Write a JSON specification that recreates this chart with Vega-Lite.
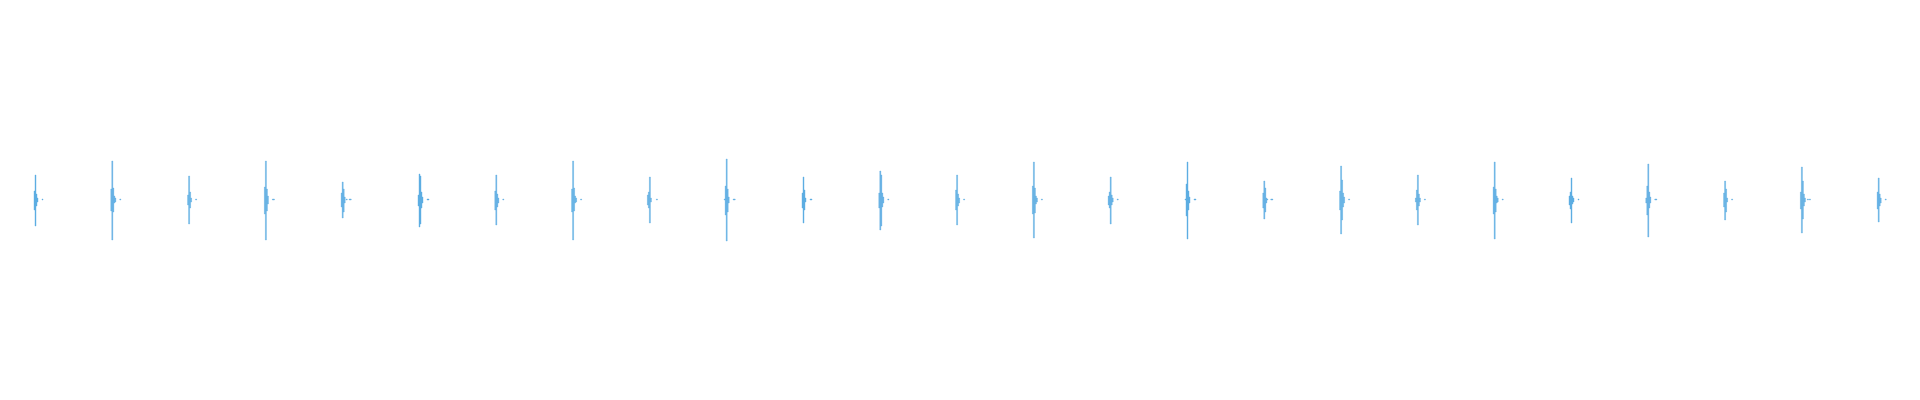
{
  "$schema": "https://vega.github.io/schema/vega-lite/v6.json",
  "width": 1920,
  "height": 400,
  "autosize": {"type": "fit", "contains": "padding"},
  "padding": 0,
  "background": "white",
  "config": {"view": {"stroke": null}},
  "data": {"values": [
    {"g":1,"c":-1,"hi":9,"lo":-10},{"g":1,"c":0,"hi":25,"lo":-26},{"g":1,"c":1,"hi":6,"lo":-6},{"g":1,"c":2,"hi":2,"lo":-2},{"g":1,"c":7,"hi":1,"lo":0},
    {"g":2,"c":-1,"hi":11,"lo":-11},{"g":2,"c":0,"hi":39,"lo":-40},{"g":2,"c":1,"hi":12,"lo":-12},{"g":2,"c":2,"hi":4,"lo":-3},{"g":2,"c":3,"hi":2,"lo":-2},{"g":2,"c":8,"hi":1,"lo":0},
    {"g":3,"c":-1,"hi":5,"lo":-5},{"g":3,"c":0,"hi":24,"lo":-24},{"g":3,"c":1,"hi":8,"lo":-8},{"g":3,"c":2,"hi":2,"lo":-2},{"g":3,"c":7,"hi":1,"lo":0},
    {"g":4,"c":-1,"hi":13,"lo":-14},{"g":4,"c":0,"hi":39,"lo":-40},{"g":4,"c":1,"hi":11,"lo":-11},{"g":4,"c":2,"hi":4,"lo":-4},{"g":4,"c":7,"hi":1,"lo":0},{"g":4,"c":8,"hi":1,"lo":0},
    {"g":5,"c":-1,"hi":7,"lo":-7},{"g":5,"c":0,"hi":18,"lo":-18},{"g":5,"c":1,"hi":11,"lo":-12},{"g":5,"c":2,"hi":3,"lo":-3},{"g":5,"c":4,"hi":1,"lo":0},{"g":5,"c":7,"hi":1,"lo":0},{"g":5,"c":8,"hi":1,"lo":0},
    {"g":6,"c":-1,"hi":5,"lo":-6},{"g":6,"c":0,"hi":26,"lo":-27},{"g":6,"c":1,"hi":24,"lo":-24},{"g":6,"c":2,"hi":8,"lo":-8},{"g":6,"c":3,"hi":3,"lo":-3},{"g":6,"c":8,"hi":1,"lo":0},{"g":6,"c":9,"hi":1,"lo":0},
    {"g":7,"c":-1,"hi":9,"lo":-10},{"g":7,"c":0,"hi":25,"lo":-25},{"g":7,"c":1,"hi":6,"lo":-7},{"g":7,"c":2,"hi":2,"lo":-3},{"g":7,"c":7,"hi":1,"lo":0},
    {"g":8,"c":-1,"hi":11,"lo":-12},{"g":8,"c":0,"hi":39,"lo":-40},{"g":8,"c":1,"hi":12,"lo":-11},{"g":8,"c":2,"hi":4,"lo":-3},{"g":8,"c":3,"hi":2,"lo":-2},{"g":8,"c":8,"hi":1,"lo":0},
    {"g":9,"c":-2,"hi":5,"lo":-5},{"g":9,"c":-1,"hi":8,"lo":-8},{"g":9,"c":0,"hi":23,"lo":-23},{"g":9,"c":1,"hi":2,"lo":-2},{"g":9,"c":7,"hi":1,"lo":0},
    {"g":10,"c":-2,"hi":1,"lo":0},{"g":10,"c":-1,"hi":14,"lo":-15},{"g":10,"c":0,"hi":41,"lo":-41},{"g":10,"c":1,"hi":11,"lo":-12},{"g":10,"c":2,"hi":3,"lo":-3},{"g":10,"c":7,"hi":1,"lo":0},{"g":10,"c":8,"hi":1,"lo":0},
    {"g":11,"c":-1,"hi":7,"lo":-8},{"g":11,"c":0,"hi":23,"lo":-23},{"g":11,"c":1,"hi":10,"lo":-10},{"g":11,"c":2,"hi":2,"lo":-2},{"g":11,"c":7,"hi":1,"lo":0},{"g":11,"c":8,"hi":1,"lo":0},
    {"g":12,"c":-1,"hi":7,"lo":-8},{"g":12,"c":0,"hi":29,"lo":-30},{"g":12,"c":1,"hi":25,"lo":-26},{"g":12,"c":2,"hi":7,"lo":-7},{"g":12,"c":3,"hi":3,"lo":-3},{"g":12,"c":8,"hi":1,"lo":0},
    {"g":13,"c":-1,"hi":10,"lo":-10},{"g":13,"c":0,"hi":25,"lo":-25},{"g":13,"c":1,"hi":6,"lo":-6},{"g":13,"c":2,"hi":2,"lo":-3},{"g":13,"c":7,"hi":1,"lo":0},
    {"g":14,"c":-1,"hi":14,"lo":-14},{"g":14,"c":0,"hi":38,"lo":-38},{"g":14,"c":1,"hi":12,"lo":-13},{"g":14,"c":2,"hi":4,"lo":-4},{"g":14,"c":3,"hi":2,"lo":-2},{"g":14,"c":8,"hi":1,"lo":0},
    {"g":15,"c":-2,"hi":4,"lo":-5},{"g":15,"c":-1,"hi":8,"lo":-8},{"g":15,"c":0,"hi":23,"lo":-24},{"g":15,"c":1,"hi":5,"lo":-5},{"g":15,"c":2,"hi":2,"lo":-2},{"g":15,"c":7,"hi":1,"lo":0},
    {"g":16,"c":-2,"hi":1,"lo":0},{"g":16,"c":-1,"hi":16,"lo":-16},{"g":16,"c":0,"hi":38,"lo":-39},{"g":16,"c":1,"hi":9,"lo":-10},{"g":16,"c":2,"hi":3,"lo":-3},{"g":16,"c":7,"hi":1,"lo":0},{"g":16,"c":8,"hi":1,"lo":0},
    {"g":17,"c":-1,"hi":7,"lo":-8},{"g":17,"c":0,"hi":19,"lo":-19},{"g":17,"c":1,"hi":12,"lo":-12},{"g":17,"c":2,"hi":2,"lo":-3},{"g":17,"c":3,"hi":1,"lo":0},{"g":17,"c":7,"hi":1,"lo":0},{"g":17,"c":8,"hi":1,"lo":0},
    {"g":18,"c":-1,"hi":9,"lo":-10},{"g":18,"c":0,"hi":34,"lo":-34},{"g":18,"c":1,"hi":20,"lo":-20},{"g":18,"c":2,"hi":7,"lo":-7},{"g":18,"c":3,"hi":3,"lo":-3},{"g":18,"c":8,"hi":1,"lo":0},
    {"g":19,"c":-2,"hi":2,"lo":-2},{"g":19,"c":-1,"hi":10,"lo":-10},{"g":19,"c":0,"hi":25,"lo":-25},{"g":19,"c":1,"hi":6,"lo":-6},{"g":19,"c":2,"hi":2,"lo":-2},{"g":19,"c":7,"hi":1,"lo":0},
    {"g":20,"c":-1,"hi":13,"lo":-14},{"g":20,"c":0,"hi":38,"lo":-39},{"g":20,"c":1,"hi":11,"lo":-12},{"g":20,"c":2,"hi":4,"lo":-3},{"g":20,"c":3,"hi":2,"lo":-2},{"g":20,"c":8,"hi":1,"lo":0},
    {"g":21,"c":-2,"hi":4,"lo":-5},{"g":21,"c":-1,"hi":8,"lo":-9},{"g":21,"c":0,"hi":22,"lo":-23},{"g":21,"c":1,"hi":4,"lo":-4},{"g":21,"c":2,"hi":2,"lo":-2},{"g":21,"c":7,"hi":1,"lo":0},
    {"g":22,"c":-2,"hi":2,"lo":-3},{"g":22,"c":-1,"hi":14,"lo":-15},{"g":22,"c":0,"hi":36,"lo":-37},{"g":22,"c":1,"hi":8,"lo":-8},{"g":22,"c":2,"hi":3,"lo":-3},{"g":22,"c":7,"hi":1,"lo":0},{"g":22,"c":8,"hi":1,"lo":0},
    {"g":23,"c":-1,"hi":7,"lo":-7},{"g":23,"c":0,"hi":19,"lo":-20},{"g":23,"c":1,"hi":11,"lo":-12},{"g":23,"c":2,"hi":2,"lo":-2},{"g":23,"c":7,"hi":1,"lo":0},
    {"g":24,"c":-1,"hi":8,"lo":-9},{"g":24,"c":0,"hi":33,"lo":-33},{"g":24,"c":1,"hi":19,"lo":-19},{"g":24,"c":2,"hi":6,"lo":-6},{"g":24,"c":3,"hi":2,"lo":-2},{"g":24,"c":6,"hi":1,"lo":0},{"g":24,"c":8,"hi":1,"lo":0},
    {"g":25,"c":-1,"hi":8,"lo":-9},{"g":25,"c":0,"hi":22,"lo":-22},{"g":25,"c":1,"hi":6,"lo":-6},{"g":25,"c":2,"hi":2,"lo":-3},{"g":25,"c":7,"hi":1,"lo":0}
  ]},
  "mark": {"type": "bar", "color": "#5dade2", "stroke": "#5dade2", "strokeWidth": 0.4, "width": {"band": 1}},
  "encoding": {
    "x": {"field": "g", "type": "ordinal", "scale": {"type": "band", "paddingInner": 0, "paddingOuter": 0}, "axis": null},
    "xOffset": {"field": "c", "type": "ordinal", "scale": {"domain": [-2,-1,0,1,2,3,4,5,6,7,8,9], "range": [33, 45], "paddingInner": 0, "paddingOuter": 0}},
    "y": {"field": "hi", "type": "quantitative", "scale": {"domain": [-200, 200], "nice": false, "zero": false}, "axis": null},
    "y2": {"field": "lo"}
  }
}
